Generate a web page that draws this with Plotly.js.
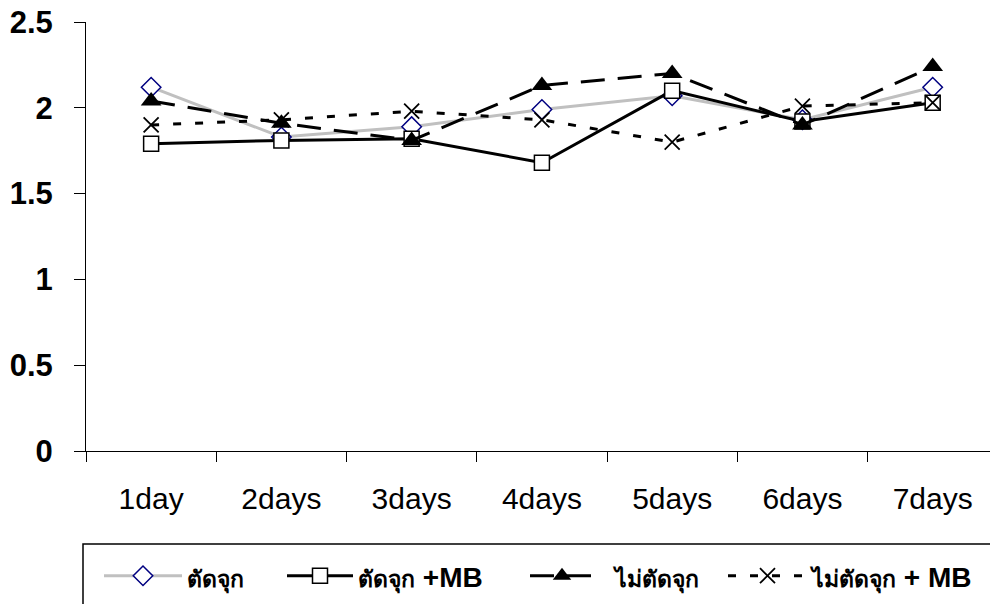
<!DOCTYPE html>
<html>
<head>
<meta charset="utf-8">
<script src="https://cdn.plot.ly/plotly-3.0.1.min.js"></script>
<style>html,body{margin:0;padding:0;background:#fff;}#chart{width:990px;height:604px;}</style>
</head>
<body>
<div id="chart"></div>
<script>
const categories = ["1day", "2days", "3days", "4days", "5days", "6days", "7days"];
const seriesNames = ["ตัดจุก", "ตัดจุก +MB", "ไม่ตัดจุก", "ไม่ตัดจุก + MB"];
const cut = [2.12, 1.83, 1.89, 1.99, 2.07, 1.93, 2.12];
const cutMB = [1.79, 1.81, 1.82, 1.68, 2.10, 1.92, 2.03];
const noCut = [2.04, 1.91, 1.81, 2.13, 2.20, 1.90, 2.24];
const noCutMB = [1.90, 1.93, 1.98, 1.93, 1.80, 2.01, 2.03];
const yTicks = [0, 0.5, 1, 1.5, 2, 2.5];

const L = 86, W = 904, T = 22, H = 429;
const px2x = p => (p - L) / W;
const py2y = p => (T + H - p) / H;

// Thai runs are shown a bit smaller than the Latin runs (condensed Thai face in the original)
function fmt(name, pad) {
  const s = name.replace(/([\u0E00-\u0E7F]+)/g, '<span style="font-size:23px">$1</span>');
  return (pad ? '\u00a0\u00a0' : '') + s;
}

const traces = [
  {x: categories, y: cut, name: fmt(seriesNames[0]), type: 'scatter', mode: 'lines+markers',
   line: {color: '#c0c0c0', width: 3},
   marker: {symbol: 'diamond', size: 15, color: '#ffffff', line: {color: '#000080', width: 1.5}},
   legend: 'legend'},
  {x: categories, y: cutMB, name: fmt(seriesNames[1]), type: 'scatter', mode: 'lines+markers',
   line: {color: '#000000', width: 3},
   marker: {symbol: 'square', size: 15, color: '#ffffff', line: {color: '#000000', width: 1.5}},
   legend: 'legend2'},
  {x: categories, y: noCut, name: fmt(seriesNames[2], true), type: 'scatter', mode: 'lines+markers',
   line: {color: '#000000', width: 3, dash: '24px,13px'},
   marker: {symbol: 'triangle-up', size: 18, color: '#000000'},
   legend: 'legend3'},
  {x: categories, y: noCutMB, name: fmt(seriesNames[3]), type: 'scatter', mode: 'lines+markers',
   line: {color: '#000000', width: 3, dash: '8px,14px'},
   marker: {symbol: 'x-thin-open', size: 15, color: '#000000', line: {color: '#000000', width: 1.8}},
   legend: 'legend4'}
];

const legFont = {family: 'Liberation Sans, Arial, sans-serif', size: 28, color: '#000000', weight: 'bold'};
const legendY = py2y(576);
function leg(xpx, w) {
  return {x: px2x(xpx), y: legendY, xanchor: 'left', yanchor: 'middle', orientation: 'h',
          itemwidth: w, font: legFont, bgcolor: 'rgba(0,0,0,0)', borderwidth: 0};
}

const layout = {
  width: 990, height: 604,
  margin: {l: L, r: 0, t: T, b: 604 - T - H, pad: 0},
  paper_bgcolor: '#ffffff', plot_bgcolor: '#ffffff',
  font: {family: 'Liberation Sans, Arial, sans-serif', color: '#000000'},
  showlegend: true,
  xaxis: {type: 'category', range: [-0.5, 6.44], showgrid: false, zeroline: false,
          showline: true, linecolor: '#000000', linewidth: 1,
          ticks: 'outside', tickson: 'boundaries', ticklen: 10, tickwidth: 1, tickcolor: '#000000',
          tickfont: {size: 30, family: 'Liberation Sans, Arial, sans-serif', color: '#000000'},
          ticklabelstandoff: 21},
  yaxis: {range: [0, 2.5], tickvals: yTicks, ticktext: yTicks.map(String), showgrid: false, zeroline: false,
          showline: true, linecolor: '#000000', linewidth: 1,
          ticks: 'outside', ticklen: 11, tickwidth: 1, tickcolor: '#000000',
          tickfont: {size: 31, family: 'Liberation Sans, Arial, sans-serif', color: '#000000', weight: 'bold'},
          ticklabelstandoff: 15},
  legend: leg(99, 78),
  legend2: leg(282, 66),
  legend3: leg(525, 64),
  legend4: leg(723, 79),
  shapes: [
    {type: 'rect', xref: 'paper', yref: 'paper', x0: px2x(83), x1: px2x(1010), y0: py2y(544), y1: py2y(640),
     line: {color: '#000000', width: 1.5}, fillcolor: 'rgba(0,0,0,0)', layer: 'above'}
  ]
};

Plotly.newPlot('chart', traces, layout, {staticPlot: true, displayModeBar: false});
</script>
</body>
</html>
